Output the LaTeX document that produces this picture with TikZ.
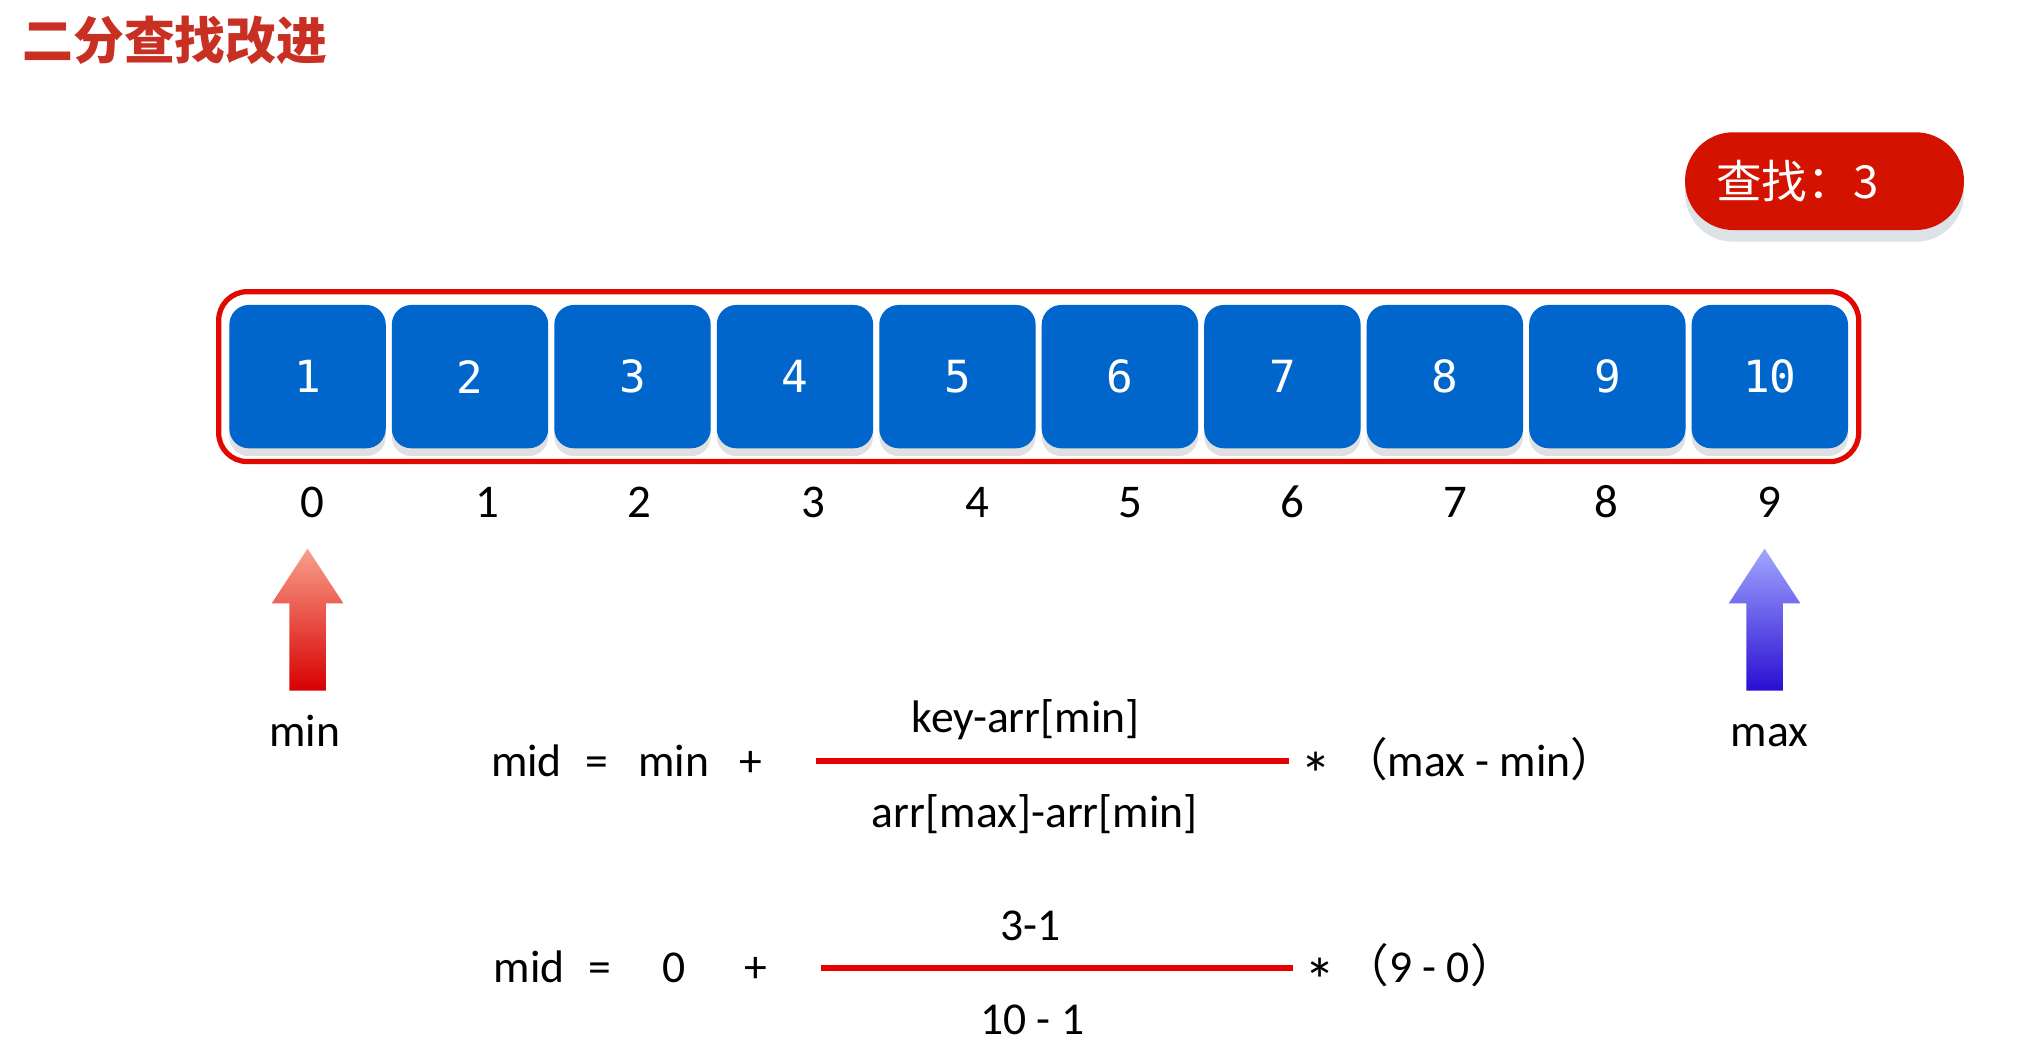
\documentclass[tikz,border=0pt]{standalone}
\usepackage{fontspec}
\setmainfont{Carlito}
\newfontfamily\cjk{Noto Sans CJK SC}
\newfontfamily\mono{DejaVu Sans Mono}
\usetikzlibrary{positioning, shadows, fit}

\definecolor{titlered}{RGB}{200,48,36}
\definecolor{pillred}{RGB}{212,18,0}
\definecolor{pillshade}{RGB}{220,226,230}
\definecolor{framered}{RGB}{225,8,0}
\definecolor{cellblue}{RGB}{0,102,204}
\definecolor{barred}{RGB}{230,0,0}
\definecolor{minhi}{RGB}{248,160,140}
\definecolor{minlo}{RGB}{215,0,0}
\definecolor{maxhi}{RGB}{162,166,255}
\definecolor{maxlo}{RGB}{40,14,210}

\begin{document}
\begin{tikzpicture}[x=1pt, y=-1pt]
    \tikzstyle{cell} = [fill=cellblue, rounded corners=15pt, minimum width=120pt, minimum height=110pt, inner sep=0pt, text=white, font=\mono\fontsize{34}{40}\selectfont, drop shadow={shadow xshift=0pt, shadow yshift=-6pt, fill=black!12, opacity=1}];
    \tikzstyle{frame} = [draw=framered, line width=4pt, rounded corners=22pt, inner xsep=8pt, inner ysep=10pt];
    \tikzstyle{pill} = [fill=pillred, text=white, rounded corners=37pt, minimum height=75pt, text width=166pt, inner xsep=24pt, inner ysep=0pt, align=left, font=\cjk\fontsize{35}{40}\selectfont, drop shadow={shadow xshift=0pt, shadow yshift=-9pt, fill=pillshade, opacity=1}];
    \tikzstyle{txt} = [inner sep=0pt, anchor=base, font=\fontsize{35}{42}\selectfont];
    \tikzstyle{idx} = [inner sep=0pt, anchor=base, font=\fontsize{36}{42}\selectfont];
    \tikzstyle{times} = [inner sep=0pt, font=\fontsize{48}{50}\selectfont];
    \tikzstyle{bar} = [draw=barred, line width=4.5pt];

    \fill[white] (0,0) rectangle (1560,808);
    \useasboundingbox (0,0) rectangle (1560,808);

    \node[inner sep=0pt, anchor=west, text=titlered, font=\cjk\bfseries\fontsize{39}{44}\selectfont] (head) at (17,31) {二分查找改进};
    \node[pill] (find) at (1400,139) {查找：3};

    % array cells and their indices
    \foreach \v in {1,...,10}
        \node[cell] (c\v) at ({236+124.67*(\v-1)},289) {\v};
    \node[frame, fit=(c1)(c10)] (arr) {};
    \foreach \x [count=\i from 0] in {240,374,491,624,750,867,992,1117,1233,1358}
        \node[idx] (i\i) at (\x,397) {\i};

    % pointers
    \coordinate (minptr) at (236,421);
    \coordinate (maxptr) at (1354,421);
    \shade[top color=minhi, bottom color=minlo] (minptr) -- ++(27.5,42) -- ++(-13.5,0) -- ++(0,67) -- ++(-28,0) -- ++(0,-67) -- ++(-13.5,0) -- cycle;
    \shade[top color=maxhi, bottom color=maxlo] (maxptr) -- ++(27.5,42) -- ++(-13.5,0) -- ++(0,67) -- ++(-28,0) -- ++(0,-67) -- ++(-13.5,0) -- cycle;
    \node[txt] (minlbl) at (234,573) {min};
    \node[txt] (maxlbl) at (1358,573) {max};

    % general formula
    \node[txt] (mid1) at (404,596) {mid};
    \node[txt] (eq1) at (458,596) {=};
    \node[txt] (lo1) at (517,596) {min};
    \node[txt] (plus1) at (576,596) {+};
    \coordinate (bar1l) at (626,584);
    \coordinate (bar1r) at (989,584);
    \draw[bar] (bar1l) -- (bar1r);
    \node[txt] (num1) at (787,562) {key-arr[min]};
    \node[txt] (den1) at (794,635) {arr[max]-arr[min]};
    \node[times] (mul1) at (1010,594) {*};
    \node[txt] (rng1) at (1135,596) {{\cjk （}max - min{\cjk ）}};

    % with the values
    \node[txt] (mid2) at (406,754) {mid};
    \node[txt] (eq2) at (460,754) {=};
    \node[txt] (lo2) at (517,754) {0};
    \node[txt] (plus2) at (580,754) {+};
    \coordinate (bar2l) at (630,743);
    \coordinate (bar2r) at (992,743);
    \draw[bar] (bar2l) -- (bar2r);
    \node[txt] (num2) at (791,722) {3-1};
    \node[txt] (den2) at (792,794) {10 - 1};
    \node[times] (mul2) at (1013,752) {*};
    \node[txt] (rng2) at (1097,754) {{\cjk （}9 - 0{\cjk ）}};
\end{tikzpicture}
\end{document}
